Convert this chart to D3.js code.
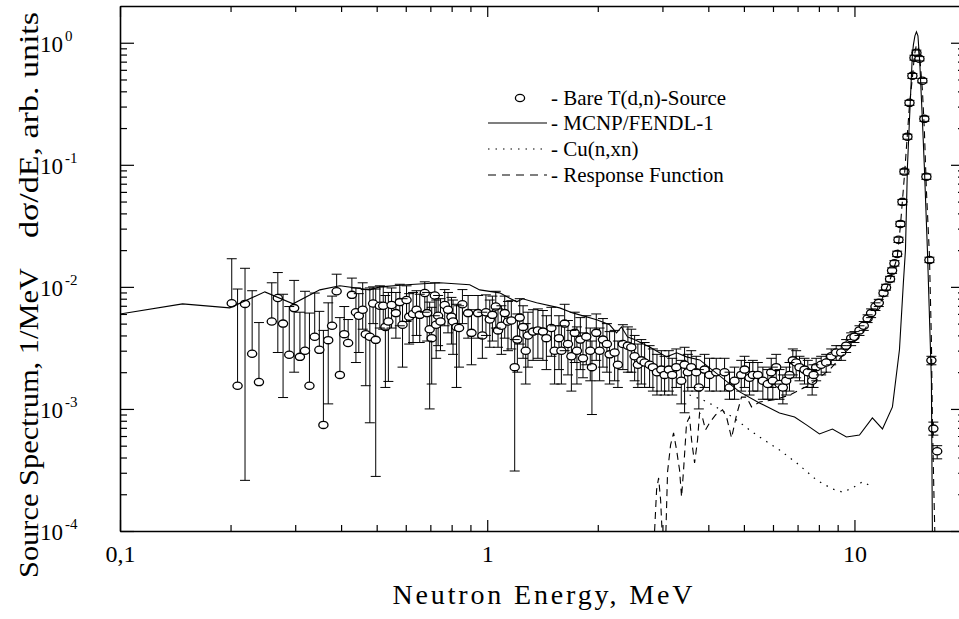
<!DOCTYPE html>
<html><head><meta charset="utf-8">
<script src="https://cdn.jsdelivr.net/npm/d3@7"></script>
<style>
body{margin:0;background:#fff;}
svg{display:block;font-family:"Liberation Serif","Times New Roman",serif;}
</style></head><body>
<svg id="c" width="959" height="619"></svg>
<script>
// ---------- data ----------
const expE = [0.2015,0.209,0.219,0.229,0.239,0.259,0.269,0.278,0.289,0.298,0.309,0.319,0.328,0.339,0.349,0.358,0.369,0.378,0.389,0.397,0.408,0.418,0.428,0.439,0.447,0.458,0.467,0.479,0.489,0.497,0.510,0.521,0.528,0.538,0.549,0.564,0.578,0.588,0.603,0.613,0.628,0.642,0.655,0.676,0.686,0.697,0.706,0.720,0.726,0.735,
0.746,0.766,0.782,0.799,0.807,0.825,0.838,0.856,0.887,0.906,0.944,0.970,0.992,1.016,1.033,1.055,1.070,1.093,1.116,1.139,1.163,1.188,1.208,1.226,1.252,1.273,1.291,1.333,1.374,1.418,1.449,1.495,1.526,1.568,1.592,1.625,1.659,1.695,1.731,1.755,1.793,1.823,1.861,1.908,1.928,1.981,2.023,2.066,2.118,2.154,2.223,2.269,2.341,2.416,2.468,2.52,2.572,2.628,2.683,2.768,2.826,2.899,2.979,3.041,3.123,3.190,3.272,3.376,3.447,3.518,3.594,3.708,3.769,
3.907,4.031,4.204,4.429,4.569,4.715,4.917,5.021,5.18,5.289,5.457,5.631,5.809,5.934,5.994,6.122,6.251,6.383,6.518,6.655,6.795,6.939,7.085,7.312,7.463,7.671,7.738,7.866,8.117,8.375,8.643,8.917,9.201,9.493,9.796,10.0,10.32,10.60,10.86,11.10,11.41,11.65,12.00,12.19,12.50,12.66,12.85,13.07,13.18,13.34,13.51,13.68,13.94,14.12,14.38,14.57,14.75,15.03,15.31,15.50,15.70,16.0,16.2,16.4,16.8];
const expV = [0.00735,0.00155,0.00725,0.00283,0.00166,0.0052,0.0081,0.0050,0.00278,0.0067,0.00267,0.0030,0.00155,0.0039,0.00305,0.00074,0.00366,0.0048,0.0092,0.0019,0.0041,0.00347,0.0086,0.0062,0.0058,0.0065,0.0041,0.0039,0.0073,0.00368,0.0070,0.0070,0.0047,0.0052,0.0071,0.0061,0.0075,0.0049,0.0078,0.0057,0.0060,0.0065,0.0059,0.0089,0.0061,0.0045,0.0038,0.0085,0.0049,0.0058,
0.0052,0.0071,0.0065,0.0057,0.0052,0.0047,0.0046,0.0072,0.0061,0.0042,0.0061,0.0040,0.0062,0.0054,0.0059,0.0069,0.0044,0.0048,0.0061,0.0052,0.0053,0.0022,0.0037,0.0056,0.0047,0.0030,0.0040,0.0043,0.0044,0.0043,0.0038,0.0046,0.0030,0.0038,0.0030,0.0050,0.0034,0.0027,0.0042,0.0030,0.0037,0.0026,0.0039,0.0030,0.0022,0.0042,0.0030,0.0037,0.0034,0.0028,0.0029,0.0023,0.0034,0.0033,0.0032,0.0027,0.0023,0.0025,0.0024,0.0023,0.0022,0.0020,0.0021,0.0019,0.0021,0.0019,0.0022,0.0017,0.0023,0.0020,0.0022,0.0020,0.0015,
0.0021,0.0019,0.0020,0.0020,0.0015,0.0017,0.0019,0.0021,0.0018,0.0019,0.0019,0.0017,0.0016,0.0020,0.0017,0.0022,0.0016,0.0015,0.0017,0.0019,0.0025,0.0024,0.0022,0.0021,0.0020,0.0017,0.0019,0.0022,0.0023,0.0024,0.0027,0.0029,0.0029,0.0033,0.0038,0.0039,0.0044,0.0048,0.0055,0.0061,0.0069,0.0074,0.0089,0.0099,0.0116,0.0136,0.0156,0.0186,0.0243,0.0328,0.0497,0.088,0.170,0.322,0.536,0.753,0.828,0.739,0.488,0.238,0.080,0.0166,0.0025,0.00069,0.00045];
const expHi = [0.0170,0.0096,0.0142,0.0093,0.0051,0.0108,0.0131,0.0087,0.0069,0.0113,0.0062,0.0092,0.0061,0.0089,0.0063,0.0044,0.0074,0.0084,0.0127,0.0056,0.0069,0.0054,0.0118,0.0098,0.0088,0.0108,0.0095,0.0098,0.0100,0.0096,0.0102,0.0100,0.0085,0.0090,0.0098,0.0090,0.0105,0.0080,0.0102,0.0088,0.0090,0.0093,0.0087,0.0110,0.0090,0.0075,0.0068,0.0108,0.0078,0.0085,
0.0080,0.0095,0.0090,0.0082,0.0078,0.0072,0.0070,0.0095,0.0085,0.0065,0.0085,0.0062,0.0086,0.0078,0.0084,0.0092,0.0066,0.0070,0.0084,0.0076,0.0077,0.0037,0.0060,0.0080,0.0070,0.0050,0.0062,0.0065,0.0066,0.0064,0.0058,0.0068,0.0048,0.0058,0.0048,0.0072,0.0053,0.0044,0.0062,0.0047,0.0056,0.0042,0.0058,0.0046,0.0036,0.0060,0.0046,0.0055,0.0050,0.0043,0.0044,0.0036,0.0049,0.0047,0.0045,0.0040,0.0034,0.0037,0.0035,0.0033,0.0031,0.0028,0.0030,0.0027,0.0030,0.0026,0.0031,0.0025,0.0032,0.0028,0.0030,0.0027,0.0021,
0.0028,0.0026,0.0026,0.0026,0.0020,0.0022,0.0025,0.0027,0.0024,0.0025,0.0024,0.0022,0.0021,0.0026,0.0022,0.0028,0.0021,0.0019,0.0022,0.0024,0.0031,0.0030,0.0027,0.0026,0.0025,0.0021,0.0023,0.0026,0.0027,0.0028,0.0031,0.0033,0.0033,0.0037,0.0042,0.0043,0.0048,0.0052,0.0059,0.0066,0.0074,0.0079,0.0094,0.0105,0.0122,0.0143,0.0164,0.0196,0.0255,0.0344,0.052,0.092,0.178,0.337,0.56,0.79,0.87,0.77,0.51,0.25,0.084,0.0175,0.0027,0.00078,0.00050];
const expLo = [0.00735,0.00155,0.00026,0.00283,0.00166,0.0052,0.0029,0.00124,0.00278,0.0020,0.00267,0.0030,0.00155,0.0039,0.00305,0.00074,0.0011,0.0048,0.0092,0.0019,0.0041,0.00347,0.0086,0.0024,0.0029,0.0045,0.00155,0.00077,0.0050,0.00028,0.0046,0.0045,0.0015,0.00168,0.0046,0.0038,0.0048,0.0022,0.0052,0.0034,0.0035,0.0040,0.0035,0.0062,0.0036,0.0010,0.0016,0.0058,0.0026,0.0033,
0.0030,0.0048,0.0042,0.0034,0.0028,0.0015,0.0022,0.0050,0.0038,0.0023,0.0038,0.0026,0.0040,0.0032,0.0036,0.0046,0.0032,0.0028,0.0038,0.0030,0.0031,0.00031,0.0020,0.0034,0.0026,0.0016,0.0022,0.0025,0.0026,0.0025,0.0021,0.0027,0.0016,0.0021,0.0016,0.0030,0.0019,0.0014,0.0024,0.0016,0.0021,0.0018,0.0023,0.0017,0.0009,0.0025,0.0017,0.0022,0.0020,0.0016,0.0017,0.0015,0.0021,0.0020,0.0020,0.0017,0.0015,0.0016,0.0015,0.0015,0.0014,0.0013,0.0014,0.0013,0.0014,0.0013,0.0015,0.0011,0.00093,0.0014,0.0015,0.0014,0.0010,
0.0015,0.0014,0.0014,0.0014,0.0012,0.0012,0.0014,0.0015,0.0013,0.0014,0.0014,0.0012,0.0012,0.0015,0.0012,0.0016,0.0012,0.0011,0.0013,0.0014,0.0019,0.0018,0.0017,0.0016,0.0015,0.0013,0.0015,0.0017,0.0019,0.0020,0.0023,0.0025,0.0025,0.0029,0.0033,0.0035,0.0040,0.0044,0.0051,0.0056,0.0064,0.0069,0.0084,0.0094,0.0110,0.0129,0.0148,0.0177,0.0231,0.0312,0.047,0.084,0.162,0.307,0.51,0.72,0.79,0.71,0.47,0.227,0.076,0.0158,0.0023,0.00061,0.00039];

const mcnpE = [0.1,0.148,0.199,0.248,0.296,0.350,0.397,0.479,0.510,0.604,0.743,0.896,0.954,1.081,1.203,1.249,1.363,1.575,1.709,1.986,2.154,2.25,2.32,2.41,2.49,2.77,3.08,3.28,3.49,3.79,4.87,5.51,6.25,6.87,7.40,8.03,8.71,9.51,10.32,11.19,11.92,12.69,13.26,13.59,13.77,13.94,14.12,14.38,14.47,14.61,14.75,14.89,14.98,15.08,15.31,15.50,15.80,16.2,16.3];
const mcnpV = [0.0060,0.00726,0.00673,0.0091,0.00726,0.00945,0.0102,0.00945,0.0100,0.0104,0.0108,0.0104,0.00945,0.00893,0.00754,0.00798,0.0074,0.00673,0.00612,0.00537,0.00489,0.0042,0.0047,0.00389,0.00375,0.00322,0.00267,0.00288,0.00267,0.00252,0.00138,0.00112,0.000927,0.000859,0.00074,0.000624,0.000685,0.000589,0.000612,0.000844,0.000685,0.00104,0.00305,0.0108,0.0201,0.0963,0.234,0.80,0.96,1.14,1.23,1.14,0.876,0.636,0.234,0.0963,0.0201,0.00173,0.0001];

const cuE = [3.556,3.858,4.108,4.656,5.18,5.515,6.251,6.96,7.88,8.71,9.28,9.88,10.52,11.12];
const cuV = [0.0013,0.00119,0.00108,0.000859,0.000673,0.000589,0.000461,0.000361,0.000262,0.000221,0.000208,0.000225,0.000253,0.000232];

const respE = [2.856,2.892,2.929,2.966,3.003,3.060,3.098,3.157,3.217,3.278,3.340,3.382,3.425,3.490,3.556,3.601,3.670,3.739,3.786,3.858,3.931,4.031,4.185,4.374,4.484,4.627,4.774,4.926,5.083,5.245,5.515,6.06,6.655,7.543,8.551,9.692,10.65,11.70,12.45,13.07,13.34,13.68,14.12,14.38,14.57,14.75,14.94,15.12,15.31,15.50,15.70,16.0,16.2,16.3,16.45,16.55];
const respV = [0.0001,0.000217,0.000272,0.000179,0.00008,0.00008,0.000305,0.000507,0.000636,0.000461,0.000316,0.00019,0.000316,0.000768,0.000859,0.000557,0.000361,0.000557,0.000927,0.000843,0.000673,0.000768,0.000893,0.000982,0.000859,0.000578,0.000893,0.00125,0.00125,0.00104,0.00114,0.00119,0.0013,0.00157,0.00209,0.00316,0.00444,0.00712,0.011,0.0173,0.0316,0.0813,0.31,0.517,0.797,0.963,0.91,0.66,0.412,0.194,0.0624,0.0183,0.00368,0.000813,0.000217,0.0001];

const xMajor = [0.1,1,10];
const xMajorLabels = ["0,1","1","10"];
const yExponents = [0,-1,-2,-3,-4];
const legendLabels = ["- Bare T(d,n)-Source","- MCNP/FENDL-1","- Cu(n,xn)","- Response Function"];
const xTitle = "Neutron Energy, MeV";
const yTitleA = "Source Spectrum, 1/MeV";
const yTitleB = "dσ/dE, arb. units";

// ---------- layout ----------
const L=120, R=965, T=6, B=531;
const x = d3.scaleLog().domain([0.1,20]).range([L,R]);
const y = d3.scaleLog().domain([1e-4,2]).range([B,T]);
const svg = d3.select('#c');

svg.append('defs').append('clipPath').attr('id','clip')
  .append('rect').attr('x',L).attr('y',T).attr('width',R-L).attr('height',B-T);

const xMinor=[]; [0.1,1,10].forEach(d=>{for(let k=2;k<=9;k++){const v=d*k; if(v<=20) xMinor.push(v);}});
const yMinor=[]; [1e-4,1e-3,1e-2,1e-1,1].forEach(d=>{for(let k=2;k<=9;k++){const v=d*k; if(v<2) yMinor.push(v);}});
const yMajor = yExponents.map(e=>Math.pow(10,e));

function styleAxis(sel){
  sel.select('.domain').attr('stroke','#000').attr('stroke-width',1.6);
  sel.selectAll('.tick line').attr('stroke','#000').attr('stroke-width',1.2);
}
const axB = svg.append('g').attr('transform',`translate(0,${B})`)
  .call(d3.axisBottom(x).tickValues(xMinor.concat(xMajor)).tickSizeInner(-6).tickSizeOuter(0)
    .tickPadding(14).tickFormat(d=>{const i=xMajor.indexOf(d); return i>=0?xMajorLabels[i]:'';}));
styleAxis(axB);
axB.selectAll('.tick').filter(d=>xMajor.includes(d)).select('line').attr('y2',-11);
axB.selectAll('.tick text').attr('font-family','"Liberation Serif",serif').attr('font-size',24).attr('fill','#000');
const axT = svg.append('g').attr('transform',`translate(0,${T})`)
  .call(d3.axisTop(x).tickValues(xMinor.concat(xMajor)).tickSizeInner(-6).tickSizeOuter(0).tickFormat(''));
styleAxis(axT);
axT.selectAll('.tick').filter(d=>xMajor.includes(d)).select('line').attr('y2',11);
const axL = svg.append('g').attr('transform',`translate(${L},0)`)
  .call(d3.axisLeft(y).tickValues(yMinor.concat(yMajor)).tickSizeInner(-7).tickSizeOuter(0).tickFormat(''));
styleAxis(axL);
axL.selectAll('.tick').filter(d=>yMajor.includes(d)).select('line').attr('x2',14);
const axR = svg.append('g').attr('transform',`translate(${R},0)`)
  .call(d3.axisRight(y).tickValues(yMinor.concat(yMajor)).tickSizeInner(-7).tickSizeOuter(0).tickFormat(''));
styleAxis(axR);
axR.selectAll('.tick').filter(d=>yMajor.includes(d)).select('line').attr('x2',-14);

yExponents.forEach(e=>{
  const t = svg.append('text').attr('x',40).attr('y',y(Math.pow(10,e))+9)
    .attr('font-size',23).attr('fill','#000');
  t.append('tspan').text('10');
  t.append('tspan').attr('dy',-11).attr('dx',2).attr('font-size',15).text(String(e));
});

svg.append('text').attr('x',(L+R)/2).attr('y',604).attr('text-anchor','middle')
  .attr('font-size',28).attr('textLength',300).attr('lengthAdjust','spacing').text(xTitle);
svg.append('text').attr('transform','translate(38,578) rotate(-90)').attr('font-size',28)
  .attr('text-anchor','start').attr('textLength',310).attr('lengthAdjust','spacingAndGlyphs').text(yTitleA);
svg.append('text').attr('transform','translate(38,238) rotate(-90)').attr('font-size',28)
  .attr('text-anchor','start').attr('textLength',226).attr('lengthAdjust','spacingAndGlyphs').text(yTitleB);

// ---------- marks ----------
const g = svg.append('g').attr('clip-path','url(#clip)');
const exp = expE.map((e,i)=>({e, v:expV[i], hi:expHi[i], lo:expLo[i]}));
const capW = 5;
g.append('g').selectAll('line').data(exp).join('line')
  .attr('x1',d=>x(d.e)).attr('x2',d=>x(d.e)).attr('y1',d=>y(d.hi)).attr('y2',d=>y(d.lo))
  .attr('stroke','#000').attr('stroke-width',1);
g.append('g').selectAll('ellipse').data(exp).join('ellipse')
  .attr('cx',d=>x(d.e)).attr('cy',d=>y(d.v)).attr('rx',4.6).attr('ry',3.6)
  .attr('fill','#fff').attr('stroke','#000').attr('stroke-width',1.3);
const caps = g.append('g').attr('stroke','#000').attr('stroke-width',1);
exp.forEach(d=>{
  caps.append('line').attr('x1',x(d.e)-capW).attr('x2',x(d.e)+capW).attr('y1',y(d.hi)).attr('y2',y(d.hi));
  if(d.lo<d.v) caps.append('line').attr('x1',x(d.e)-capW).attr('x2',x(d.e)+capW).attr('y1',y(d.lo)).attr('y2',y(d.lo));
});

const line = d3.line().x(d=>x(d[0])).y(d=>y(d[1]));
g.append('path').attr('d',line(mcnpE.map((e,i)=>[e,mcnpV[i]])))
  .attr('fill','none').attr('stroke','#000').attr('stroke-width',1.1);
g.append('path').attr('d',line(cuE.map((e,i)=>[e,cuV[i]])))
  .attr('fill','none').attr('stroke','#000').attr('stroke-width',1.2).attr('stroke-dasharray','1.5,6');
g.append('path').attr('d',line(respE.map((e,i)=>[e,respV[i]])))
  .attr('fill','none').attr('stroke','#000').attr('stroke-width',1.1).attr('stroke-dasharray','7,5');

// ---------- legend ----------
const leg = svg.append('g');
const ly = [98,123,149,175];
leg.append('ellipse').attr('cx',520).attr('cy',ly[0]).attr('rx',4.6).attr('ry',3.6)
  .attr('fill','#fff').attr('stroke','#000').attr('stroke-width',1.3);
const dashes=[null,null,'1.5,6','8,6'];
[1,2,3].forEach(i=>{
  leg.append('line').attr('x1',488).attr('x2',547).attr('y1',ly[i]).attr('y2',ly[i])
    .attr('stroke','#000').attr('stroke-width',1.1).attr('stroke-dasharray',dashes[i]);
});
legendLabels.forEach((s,i)=>{
  leg.append('text').attr('x',551).attr('y',ly[i]+7).attr('font-size',21).text(s);
});
</script></body></html>
